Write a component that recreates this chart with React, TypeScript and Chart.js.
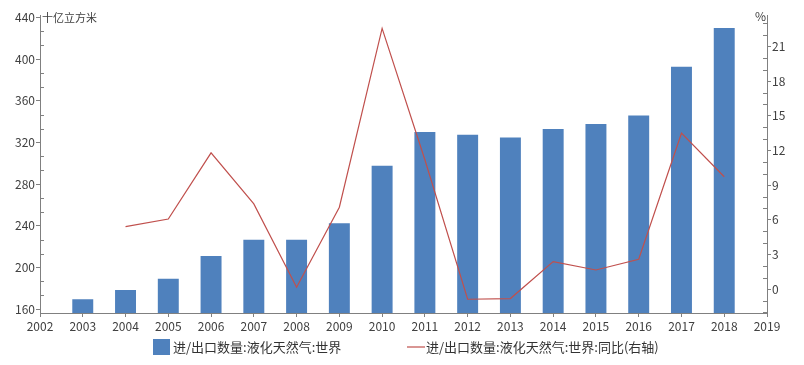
import React, { useEffect, useRef } from 'react';
import { Chart, registerables } from 'chart.js';

Chart.register(...registerables);

const years = ['2002', '2003', '2004', '2005', '2006', '2007', '2008', '2009', '2010', '2011', '2012', '2013', '2014', '2015', '2016', '2017', '2018', '2019'];
const volume = [null, 169.3, 178.3, 189, 211, 226.6, 226.6, 242.4, 297.5, 330, 327.3, 324.7, 333, 337.6, 345.9, 392.7, 430, null];
const yoy = [null, null, 5.42, 6.08, 11.8, 7.38, 0.17, 7.1, 22.56, 11.2, -0.86, -0.8, 2.39, 1.67, 2.6, 13.5, 9.73, null];
const leftTicks = [160, 200, 240, 280, 320, 360, 400, 440];
const rightTicks = [0, 3, 6, 9, 12, 15, 18, 21];
const leftRange = [156.2, 442.4];
const rightRange = [-2.05, 23.72];
const volumeLabel = '进/出口数量:液化天然气:世界';
const yoyLabel = '进/出口数量:液化天然气:世界:同比(右轴)';
const leftUnit = '十亿立方米';
const rightUnit = '%';

const FONT = "'Noto Sans CJK SC', 'Noto Sans', sans-serif";
const BAR_COLOR = '#4F81BD';
const LINE_COLOR = '#C0504D';
const AXIS_COLOR = '#808080';
const TEXT_COLOR = '#404040';

const decorPlugin = {
  id: 'decor',
  afterDraw(chart: any) {
    const { ctx, chartArea, scales } = chart;
    const y = scales.y;
    const y1 = scales.y1;
    ctx.save();
    ctx.strokeStyle = AXIS_COLOR;
    ctx.lineWidth = 1;
    // minor ticks (inside)
    const drawMinor = (scale: any, ticks: number[], x0: number, dir: number) => {
      const step = (ticks[1] - ticks[0]) / 3;
      for (let k = -10; k < 200; k++) {
        if (k % 3 === 0) continue;
        const v = ticks[0] + k * step;
        if (v < scale.min || v > scale.max) continue;
        const py = Math.round(scale.getPixelForValue(v)) + 0.5;
        ctx.beginPath();
        ctx.moveTo(x0, py);
        ctx.lineTo(x0 + dir * 4, py);
        ctx.stroke();
      }
    };
    drawMinor(y, leftTicks, chartArea.left, 1);
    drawMinor(y1, rightTicks, chartArea.right, -1);

    // unit labels
    ctx.fillStyle = TEXT_COLOR;
    ctx.font = `11px ${FONT}`;
    ctx.textBaseline = 'middle';
    ctx.textAlign = 'left';
    ctx.fillText(leftUnit, chartArea.left + 2, chartArea.top + 3);
    ctx.textAlign = 'right';
    ctx.font = `12px ${FONT}`;
    ctx.fillText(rightUnit, chartArea.right - 1, chartArea.top + 1);

    // legend
    const ds = chart.data.datasets;
    const ly = 347;
    ctx.font = `13px ${FONT}`;
    ctx.textAlign = 'left';
    ctx.fillStyle = ds[1].backgroundColor;
    ctx.fillRect(153, 339, 17, 16);
    ctx.fillStyle = '#333333';
    ctx.fillText(ds[1].label, 173, ly);
    ctx.strokeStyle = ds[0].borderColor;
    ctx.lineWidth = 1.2;
    ctx.beginPath();
    ctx.moveTo(407, ly);
    ctx.lineTo(425, ly);
    ctx.stroke();
    ctx.fillText(ds[0].label, 426, ly);
    ctx.restore();
  },
};

export default function App() {
  const ref = useRef<HTMLCanvasElement>(null);
  useEffect(() => {
    if (!ref.current) return;
    const chart = new Chart(ref.current, {
      type: 'bar',
      data: {
        labels: years,
        datasets: [
          {
            type: 'line',
            label: yoyLabel,
            data: yoy,
            yAxisID: 'y1',
            borderColor: LINE_COLOR,
            backgroundColor: LINE_COLOR,
            borderWidth: 1.2,
            pointRadius: 0,
            tension: 0,
            order: 0,
          } as any,
          {
            type: 'bar',
            label: volumeLabel,
            data: volume,
            yAxisID: 'y',
            backgroundColor: BAR_COLOR,
            borderWidth: 0,
            categoryPercentage: 1,
            barPercentage: 0.49,
            order: 1,
          } as any,
        ],
      },
      options: {
        responsive: false,
        animation: false,
        devicePixelRatio: 1,
        layout: { padding: { left: 0, right: 0, top: 15, bottom: 30 } },
        plugins: {
          legend: { display: false },
          tooltip: { enabled: false },
        },
        scales: {
          x: {
            type: 'category',
            offset: false,
            grid: { offset: false, drawOnChartArea: false, drawTicks: true, tickLength: 4, tickColor: AXIS_COLOR },
            border: { color: AXIS_COLOR, width: 1 },
            ticks: { autoSkip: false, maxRotation: 0, padding: 2, color: TEXT_COLOR, font: { family: FONT, size: 12 } },
            afterFit: (s: any) => { s.height = 22; },
          },
          y: {
            type: 'linear',
            position: 'left',
            min: leftRange[0],
            max: leftRange[1],
            grid: { drawOnChartArea: false, drawTicks: true, tickLength: 4, tickColor: AXIS_COLOR },
            border: { color: AXIS_COLOR, width: 1 },
            ticks: { padding: 1, color: TEXT_COLOR, font: { family: FONT, size: 12 } },
            afterBuildTicks: (s: any) => { s.ticks = leftTicks.map((v) => ({ value: v })); },
            afterFit: (s: any) => { s.width = 40; },
          },
          y1: {
            type: 'linear',
            position: 'right',
            min: rightRange[0],
            max: rightRange[1],
            grid: { drawOnChartArea: false, drawTicks: true, tickLength: 4, tickColor: AXIS_COLOR },
            border: { color: AXIS_COLOR, width: 1 },
            ticks: { padding: 1, color: TEXT_COLOR, font: { family: FONT, size: 12 } },
            afterBuildTicks: (s: any) => { s.ticks = rightTicks.map((v) => ({ value: v })); },
            afterFit: (s: any) => { s.width = 37; },
          },
        },
      } as any,
      plugins: [decorPlugin],
    });
    return () => chart.destroy();
  }, []);
  return (
    <div style={{ position: 'fixed', left: 0, top: 0, width: 804, height: 365, background: '#ffffff' }}>
      <canvas ref={ref} width={804} height={365} style={{ display: 'block' }} />
    </div>
  );
}
